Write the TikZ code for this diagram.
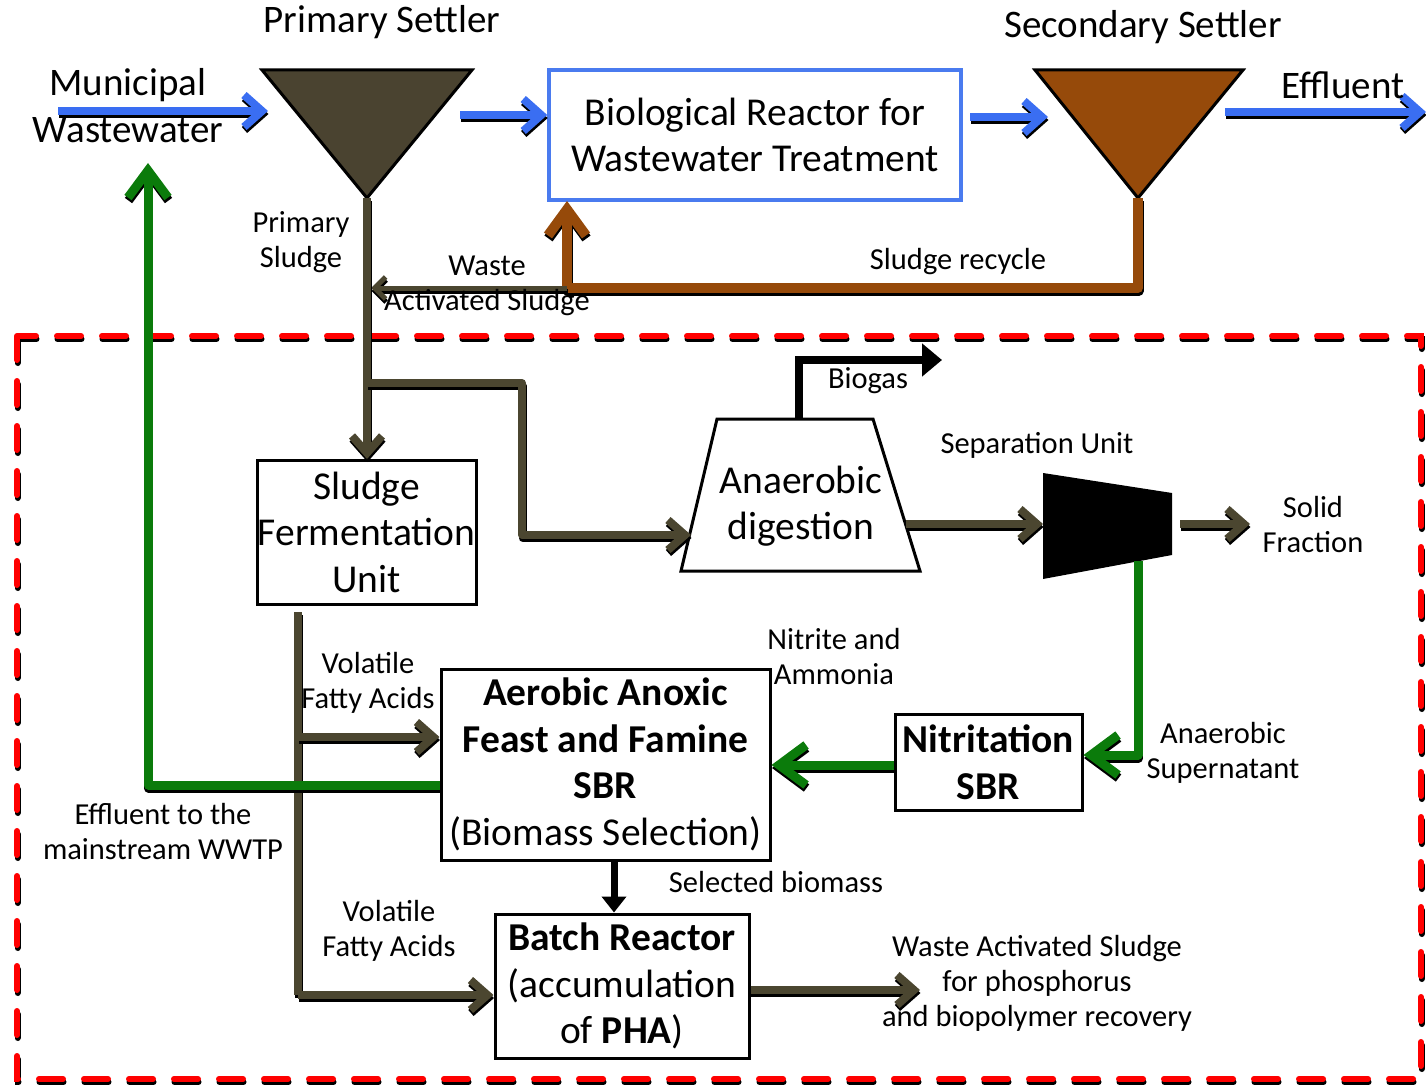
\documentclass[tikz,border=0pt]{standalone}
\usepackage{fontspec}
\setmainfont{Carlito}
\usetikzlibrary{arrows.meta}

\definecolor{sludgeOlive}{HTML}{4B4630}
\definecolor{flowBlue}{HTML}{3A6EF2}
\definecolor{boxBlue}{HTML}{4A7BEF}
\definecolor{recycleBrown}{HTML}{964A0A}
\definecolor{settlerOlive}{HTML}{4A4330}
\definecolor{effGreen}{HTML}{0B7B0B}
\definecolor{borderRed}{HTML}{FF0000}

\newcommand\fsTitle{\fontsize{39}{47}\selectfont}
\newcommand\fsBox{\fontsize{39.5}{46.5}\selectfont}
\newcommand\fsLab{\fontsize{30.5}{35}\selectfont}

% draw a path twice: a black copy offset downwards, then the coloured one
\newcommand\shadowdraw[2]{%
  \begin{scope}[transform canvas={shift={(0.5pt,-3pt)}}]
    \draw[#1, draw=black] #2;
  \end{scope}
  \draw[#1] #2;}

\tikzset{
  blueflow/.style={draw=flowBlue, line width=8pt,
    -{Straight Barb[length=18pt,width=32pt]}},
  oliveflow/.style={draw=sludgeOlive, line width=8pt, line join=round,
    -{Straight Barb[length=17pt,width=30pt]}},
  oliveline/.style={draw=sludgeOlive, line width=8pt, line join=round},
  greenflow/.style={draw=effGreen, line width=9pt, line join=round,
    -{Straight Barb[length=27pt,width=40pt]}},
  brownflow/.style={draw=recycleBrown, line width=10pt, line join=round,
    -{Straight Barb[length=26pt,width=38pt]}},
  blackflow/.style={draw=black, line width=8pt, line join=miter,
    -{Triangle[length=20pt,width=32pt]}},
  redborder/.style={draw=borderRed, line width=6pt, line cap=round,
    dash pattern=on 24pt off 21pt},
  unitbox/.style={draw=black, line width=3pt, fill=white, inner sep=0pt,
    align=center, font=\fsBox},
  lab/.style={font=\fsLab, align=center, inner sep=0pt},
  ttl/.style={font=\fsTitle, align=center, inner sep=0pt},
}

\begin{document}
\begin{tikzpicture}[x=1pt,y=-1pt]
\useasboundingbox (0,0) rectangle (1426,1086);

% ---------- dashed boundary of the side-stream plant ----------
\shadowdraw{redborder}{(17,336) rectangle (1421,1079)}

% ---------- mainstream line ----------
\coordinate (ps1) at (262,70);
\coordinate (ps2) at (472,70);
\coordinate (psb) at (367,198);
\coordinate (ss1) at (1035,70);
\coordinate (ss2) at (1243,70);
\coordinate (ssb) at (1138,198);

\node[ttl] (pslab) at (382,22) {Primary Settler};
\node[ttl] (sslab) at (1143,27) {Secondary Settler};

% influent
\coordinate (inflow) at (58,111);
\shadowdraw{blueflow}{(inflow) -- (268,111)}
\node[ttl] (muni) at (128,106) {Municipal\\Wastewater};

\draw[fill=settlerOlive, draw=black, line width=3pt, line join=miter]
  (ps1) -- (ps2) -- (psb) -- cycle;
\draw[fill=recycleBrown, draw=black, line width=3pt, line join=miter]
  (ss1) -- (ss2) -- (ssb) -- cycle;

\node[draw=boxBlue, line width=3.5pt, fill=white, inner sep=0pt,
      minimum width=412pt, minimum height=130pt, align=center, font=\fsBox]
  (bio) at (755,135) {Biological Reactor for\\Wastewater Treatment};

\shadowdraw{blueflow}{(460,115) -- (bio.west |- 0,115)}
\shadowdraw{blueflow}{(970,117) -- (1048,117)}

% effluent
\coordinate (effout) at (1426,112);
\shadowdraw{blueflow}{(1225,112) -- (effout)}
\node[ttl] (efflab) at (1343,85) {Effluent};

% sludge recycle to the reactor
\coordinate (rc1) at (1138,288);
\coordinate (rc2) at (567,288);
\shadowdraw{brownflow}{(ssb) -- (rc1) -- (rc2) -- (567,201)}
\node[lab] (reclab) at (958,262) {Sludge recycle};

% waste activated sludge to the primary sludge line
\shadowdraw{draw=sludgeOlive, line width=5pt,
      -{Straight Barb[length=11pt,width=22pt]}}{(rc2) -- (371,288)}
\node[lab] (waslab) at (487,286) {Waste\\Activated Sludge};

% ---------- side-stream units ----------
\node[unitbox, minimum width=219pt, minimum height=144pt]
  (sfu) at (366.5,532) {Sludge\\Fermentation\\Unit};

\node[unitbox, minimum width=329pt, minimum height=191pt]
  (sbr) at (605.5,764.5)
  {\textbf{Aerobic Anoxic}\\\textbf{Feast and Famine}\\\textbf{SBR}\\(Biomass Selection)};

\node[unitbox, minimum width=187pt, minimum height=96pt]
  (nit) at (988.5,762) {\textbf{Nitritation}\\\textbf{SBR}};

\node[unitbox, minimum width=254pt, minimum height=144pt]
  (bat) at (622,986) {\textbf{Batch Reactor}\\(accumulation\\of \textbf{PHA})};

% anaerobic digester
\coordinate (ad1) at (681,571);
\coordinate (ad2) at (717,419);
\coordinate (ad3) at (873,419);
\coordinate (ad4) at (920,571);
\draw[fill=white, draw=black, line width=3pt, line join=miter]
  (ad1) -- (ad2) -- (ad3) -- (ad4) -- cycle;
\node[font=\fsBox, align=center, inner sep=0pt] (ad) at (801,506)
  {Anaerobic\\digestion};

% separation unit
\coordinate (su1) at (1043,473);
\coordinate (su2) at (1172,493);
\coordinate (su3) at (1172,555);
\coordinate (su4) at (1043,579);
\fill[black] (su1) -- (su2) -- (su3) -- (su4) -- cycle;
\node[lab] (sulab) at (1037,445) {Separation Unit};

% primary sludge to fermentation
\shadowdraw{oliveflow}{(psb) -- (367,459)}
\node[lab] (pslud) at (301,242) {Primary\\Sludge};

% primary sludge to the digester
\shadowdraw{oliveflow}{(367,383) -- (522,383) -- (522,535) -- (691,535)}

% biogas
\coordinate (biogasout) at (942,360);
\draw[blackflow] (799,419) -- (799,360) -- (biogasout);
\node[lab] (bglab) at (868,381) {Biogas};

% digestate to separation
\shadowdraw{oliveflow}{(906,524) -- (1043,524)}

% solid fraction
\coordinate (solidout) at (1250,524);
\shadowdraw{oliveflow}{(1180,524) -- (solidout)}
\node[lab] (solab) at (1313,525) {Solid\\Fraction};

% anaerobic supernatant to nitritation
\shadowdraw{greenflow}{(1138,561) -- (1138,755) -- (nit.east |- 0,755)}
\node[lab] (suplab) at (1223,753) {Anaerobic\\Supernatant};

% nitritation to feast and famine SBR
\shadowdraw{greenflow}{(nit.west |- 0,765) -- (sbr.east |- 0,765)}
\node[lab] (nalab) at (834,657) {Nitrite and\\Ammonia};

% volatile fatty acids
\shadowdraw{oliveline}{(298,612) -- (298,995)}
\shadowdraw{oliveflow}{(298,737) -- (sbr.west |- 0,737)}
\shadowdraw{oliveflow}{(298,995) -- (bat.west |- 0,995)}
\node[lab] (vfa1) at (368,683) {Volatile\\Fatty Acids};
\node[lab] (vfa2) at (389,931) {Volatile\\Fatty Acids};

% effluent back to the mainstream
\shadowdraw{greenflow}{(sbr.west |- 0,785) -- (148,785) -- (148,163)}
\node[lab] (efmlab) at (163,832) {Effluent to the\\mainstream WWTP};

% selected biomass
\draw[draw=black, line width=7pt, -{Triangle[length=16pt,width=24pt]}]
  (sbr.south -| 614,0) -- (bat.north -| 614,0);
\node[lab] (sellab) at (776,882) {Selected biomass};

% waste activated sludge for recovery
\coordinate (wasout) at (920,990);
\shadowdraw{oliveflow}{(bat.east |- 0,990) -- (wasout)}
\node[lab] (reclab2) at (1037,983)
  {Waste Activated Sludge\\for phosphorus\\and biopolymer recovery};

\end{tikzpicture}
\end{document}
